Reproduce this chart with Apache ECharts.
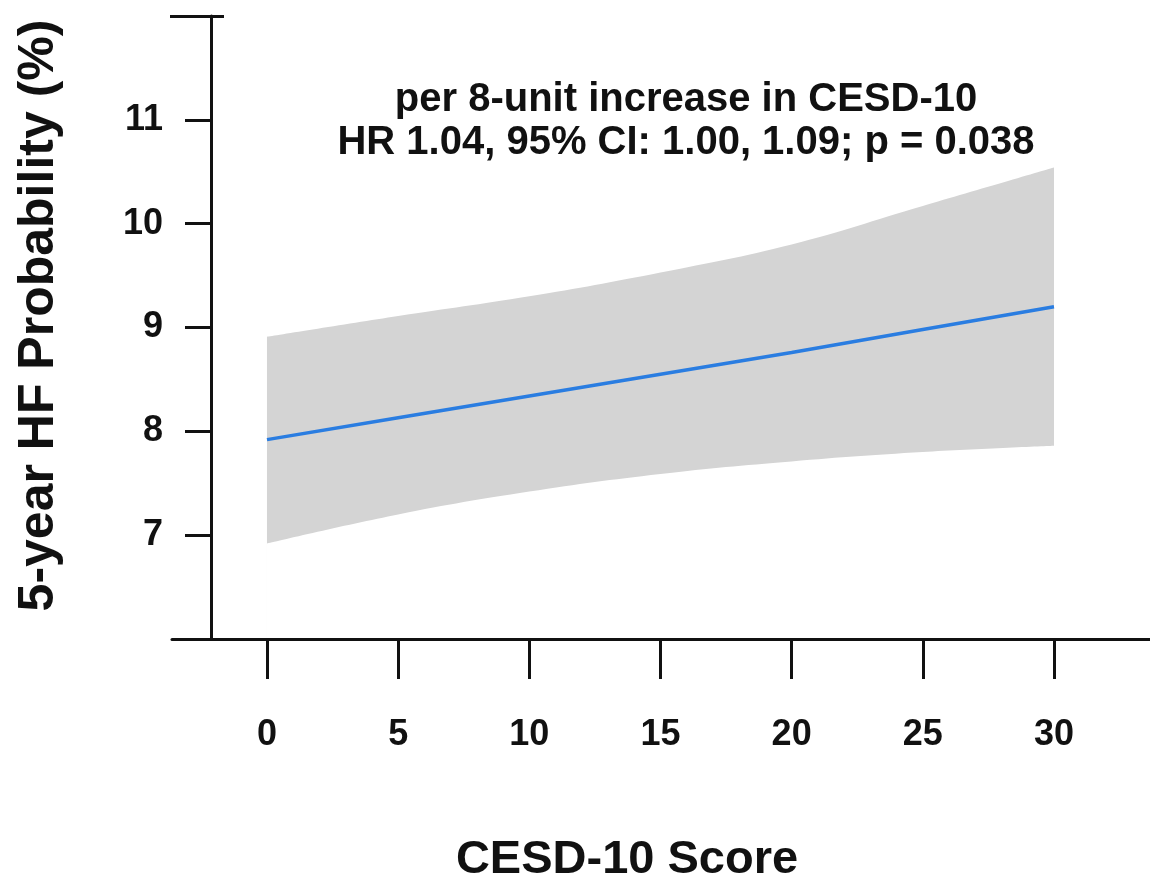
<!DOCTYPE html>
<html>
<head>
<meta charset="utf-8">
<script src="https://cdn.jsdelivr.net/npm/echarts@6/dist/echarts.min.js"></script>
<style>
html,body{margin:0;padding:0;background:#fff;}
#chart{width:1150px;height:893px;}
</style>
</head>
<body>
<div id="chart"></div>
<script>
// ---- data ----
var scores = [0, 5, 10, 15, 20, 25, 30];
var fitProb = [7.92, 8.13, 8.34, 8.55, 8.76, 8.98, 9.20];
var upperCI = [8.91, 9.11, 9.30, 9.53, 9.80, 10.17, 10.54];
var lowerCI = [6.92, 7.20, 7.42, 7.59, 7.71, 7.80, 7.86];
var xTicks = [0, 5, 10, 15, 20, 25, 30];
var yTicks = [7, 8, 9, 10, 11];
var annotationLines = ['per 8-unit increase in CESD-10', 'HR 1.04, 95% CI: 1.00, 1.09; p = 0.038'];
var xName = 'CESD-10 Score';
var yName = '5-year HF Probability (%)';

var FONT = '"Liberation Sans", Arial, Helvetica, sans-serif';
var INK = '#111111';
var BAND = '#d4d4d4';

var upperData = scores.map(function (s, i) { return [s, upperCI[i]]; });
var lowerData = scores.map(function (s, i) { return [s, lowerCI[i]]; });
var fitData = scores.map(function (s, i) { return [s, fitProb[i]]; });

var chart = echarts.init(document.getElementById('chart'), null, { renderer: 'canvas' });

var option = {
  animation: false,
  backgroundColor: '#ffffff',
  grid: { left: 172, right: 0, top: 16, bottom: 254, containLabel: false },
  xAxis: {
    type: 'value',
    min: -3.62,
    max: 33.66,
    z: 10,
    name: xName,
    nameLocation: 'middle',
    nameGap: 198,
    nameTextStyle: { fontFamily: FONT, fontWeight: 'bold', fontSize: 47, color: INK, padding: [0, 68, 0, 0] },
    axisLine: { show: true, onZero: false, lineStyle: { color: INK, width: 3 } },
    axisTick: { show: true, length: 40, lineStyle: { color: INK, width: 3 }, customValues: xTicks },
    axisLabel: { show: true, margin: 78, fontFamily: FONT, fontWeight: 'bold', fontSize: 36, color: INK, customValues: xTicks },
    splitLine: { show: false }
  },
  yAxis: [{
    type: 'value',
    min: 6,
    max: 12,
    offset: -39,
    position: 'left',
    z: 10,
    name: yName,
    nameLocation: 'middle',
    nameRotate: 90,
    nameGap: 147,
    nameTextStyle: { fontFamily: FONT, fontWeight: 'bold', fontSize: 50, color: INK, padding: [0, 0, 0, 24] },
    axisLine: { show: true, onZero: false, lineStyle: { color: INK, width: 3 } },
    axisTick: { show: true, length: 26, lineStyle: { color: INK, width: 3 }, customValues: yTicks },
    axisLabel: { show: true, margin: 48, fontFamily: FONT, fontWeight: 'bold', fontSize: 36, color: INK, customValues: yTicks },
    splitLine: { show: false }
  }, {
    type: 'value', min: 6, max: 12, offset: -39, position: 'left', z: 10,
    axisLine: { show: false, onZero: false },
    axisTick: { show: true, length: 41, lineStyle: { color: INK, width: 3 }, customValues: [12] },
    axisLabel: { show: false },
    splitLine: { show: false }
  }, {
    type: 'value', min: 6, max: 12, offset: -39, position: 'left', z: 10,
    axisLine: { show: false, onZero: false },
    axisTick: { show: true, inside: true, length: 13, lineStyle: { color: INK, width: 3 }, customValues: [12] },
    axisLabel: { show: false },
    splitLine: { show: false }
  }],
  graphic: [{
    type: 'text',
    x: 686,
    y: 78,
    z: 100,
    style: {
      text: annotationLines.join('\n'),
      font: 'bold 40px ' + FONT,
      fill: INK,
      align: 'center',
      verticalAlign: 'top',
      lineHeight: 43
    }
  }],
  series: [{
    name: 'upper',
    type: 'line',
    data: upperData,
    smooth: 0.4,
    symbol: 'none',
    lineStyle: { width: 0, opacity: 0 },
    areaStyle: { color: BAND, opacity: 1, origin: 'start' },
    silent: true,
    z: 2
  }, {
    name: 'lower',
    type: 'line',
    data: lowerData,
    smooth: 0.4,
    symbol: 'none',
    lineStyle: { width: 0, opacity: 0 },
    areaStyle: { color: '#ffffff', opacity: 1, origin: 'start' },
    silent: true,
    z: 3
  }, {
    name: 'fit',
    type: 'line',
    data: fitData,
    symbol: 'none',
    lineStyle: { color: '#2a7de1', width: 3.5 },
    z: 5
  }]
};
chart.setOption(option);
</script>
</body>
</html>
